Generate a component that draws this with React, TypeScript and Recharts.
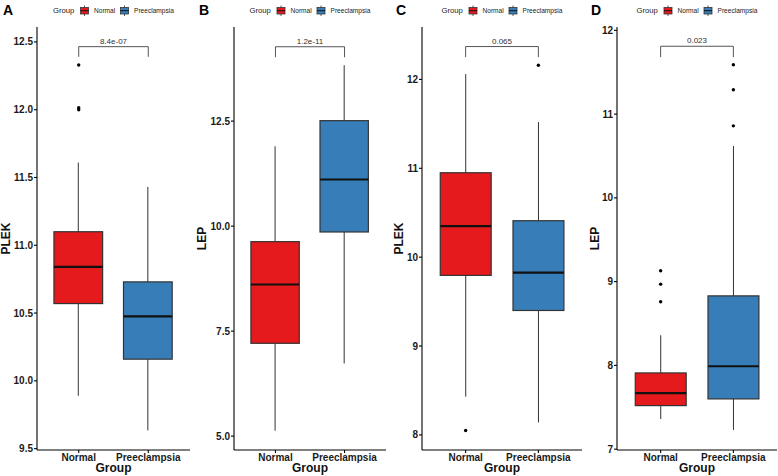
import React from 'react'
import { ComposedChart, Bar, Scatter, XAxis, YAxis, ReferenceLine } from 'recharts'

const FONT = '"Liberation Sans", Arial, Helvetica, sans-serif'

const GROUPS = ['Normal', 'Preeclampsia']
const COLORS: Record<string, string> = { Normal: '#E41A1C', Preeclampsia: '#377EB8' }

// [lower whisker, Q1, median, Q3, upper whisker], one row per group (GROUPS order)
const plekA = [[9.89, 10.57, 10.84, 11.10, 11.61], [9.635, 10.16, 10.475, 10.73, 11.43]]
const lepB = [[5.13, 7.21, 8.61, 9.63, 11.9], [6.73, 9.86, 11.11, 12.51, 13.83]]
const plekC = [[8.43, 9.795, 10.35, 10.95, 12.06], [8.14, 9.40, 9.825, 10.41, 11.52]]
const lepD = [[7.36, 7.52, 7.67, 7.91, 8.36], [7.23, 7.60, 7.99, 8.83, 10.62]]

const outA = [[12.33, 12.015, 12.0], []]
const outB = [[], []]
const outC = [[8.05], [12.16]]
const outD = [[9.13, 8.97, 8.76], [11.59, 11.29, 10.86]]

const ticksA = [9.5, 10, 10.5, 11, 11.5, 12, 12.5]
const ticksB = [5, 7.5, 10, 12.5]
const ticksC = [8, 9, 10, 11, 12]
const ticksD = [7, 8, 9, 10, 11, 12]

const pValues = ['8.4e-07', '1.2e-11', '0.065', '0.023']
// bracket top and lip end, in data units
const brackets = [[12.465, 12.39], [14.27, 14.02], [12.37, 12.25], [11.81, 11.68]]

const panels = [
  { letter: 'A', title: 'PLEK', stats: plekA, outliers: outA, ticks: ticksA, domain: [9.49, 12.61], digits: 1, left: 0, axisW: 37, plotW: 153, titleX: 6, letterX: 3 },
  { letter: 'B', title: 'LEP', stats: lepB, outliers: outB, ticks: ticksB, domain: [4.67, 14.74], digits: 1, left: 195, axisW: 39, plotW: 152, titleX: 7, letterX: 199 },
  { letter: 'C', title: 'PLEK', stats: plekC, outliers: outC, ticks: ticksC, domain: [7.83, 12.59], digits: 0, left: 390, axisW: 32, plotW: 160, titleX: 8.5, letterX: 396 },
  { letter: 'D', title: 'LEP', stats: lepD, outliers: outD, ticks: ticksD, domain: [6.99, 12.04], digits: 0, left: 585, axisW: 32, plotW: 160, titleX: 9.5, letterX: 591 },
]

function BoxShape(props: any) {
  const { x, y, width, height, payload } = props
  const [lo, q1, med, q3, hi] = payload.stats
  const top = Math.min(y, y + height)
  const bottom = Math.max(y, y + height)
  const k = (bottom - top) / (hi - lo)
  const py = (v: number) => top + (hi - v) * k
  const cx = x + width / 2
  return (
    <g>
      <line x1={cx} x2={cx} y1={top} y2={bottom} stroke="#333" strokeWidth={1} />
      <rect x={x} y={py(q3)} width={width} height={py(q1) - py(q3)} fill={COLORS[payload.group]} stroke="#333" strokeWidth={1.2} />
      <line x1={x} x2={x + width} y1={py(med)} y2={py(med)} stroke="#111" strokeWidth={2.2} />
    </g>
  )
}

const Dot = (sp: any) => <circle cx={sp.cx} cy={sp.cy} r={1.7} fill="#000" />

const tickStyle = { fontSize: 10, fontWeight: 700, fill: '#1a1a1a', fontFamily: FONT }

function Panel({ p, i }: { p: typeof panels[number]; i: number }) {
  const rows = GROUPS.map((g, j) => ({ group: g, stats: p.stats[j], whisker: [p.stats[j][0], p.stats[j][4]] }))
  const outliers = GROUPS.flatMap((g, j) => p.outliers[j].map(v => ({ group: g, value: v })))
  const pad = p.plotW * (1 - 1 / 1.1) / 2
  const [by, lip] = brackets[i]
  const width = p.axisW + p.plotW + 1
  return (
    <div style={{ position: 'absolute', left: p.left, top: 0 }}>
      <ComposedChart width={width} height={476} data={rows} margin={{ top: 27, right: 1, bottom: 0, left: 0 }}>
        <XAxis
          dataKey="group" type="category" allowDuplicatedCategory={false}
          padding={{ left: pad, right: pad }} height={26}
          stroke="#000" strokeWidth={1.1} tickSize={3} tickMargin={1} tick={tickStyle}
          label={(lp: any) => {
            const vb = lp.viewBox
            return <text x={vb.x + vb.width / 2} y={472} textAnchor="middle" fontSize={12} fontWeight={700} fill="#111" fontFamily={FONT}>Group</text>
          }}
        />
        <YAxis
          type="number" domain={p.domain} ticks={p.ticks} allowDataOverflow width={p.axisW}
          stroke="#000" strokeWidth={1.1} tickSize={3} tickMargin={1} tick={tickStyle}
          tickFormatter={(v: number) => v.toFixed(p.digits)}
          label={(lp: any) => {
            const vb = lp.viewBox
            const cx = vb.x + p.titleX
            const cy = vb.y + vb.height / 2
            return <text x={cx} y={cy} transform={`rotate(-90 ${cx} ${cy})`} textAnchor="middle" dominantBaseline="central" fontSize={12} fontWeight={700} fill="#111" fontFamily={FONT}>{p.title}</text>
          }}
        />
        <Bar dataKey="whisker" barSize={p.plotW * 0.7 / 2.2} shape={BoxShape} isAnimationActive={false} />
        <Scatter data={outliers} dataKey="value" shape={Dot} isAnimationActive={false} />
        <ReferenceLine
          segment={[{ x: 'Normal', y: by }, { x: 'Preeclampsia', y: by }]} stroke="#555" strokeWidth={1}
          label={{ value: pValues[i], position: 'top', offset: 3, fill: '#333', fontSize: 8, fontFamily: FONT }}
        />
        <ReferenceLine segment={[{ x: 'Normal', y: by }, { x: 'Normal', y: lip }]} stroke="#555" strokeWidth={1} />
        <ReferenceLine segment={[{ x: 'Preeclampsia', y: by }, { x: 'Preeclampsia', y: lip }]} stroke="#555" strokeWidth={1} />
      </ComposedChart>
    </div>
  )
}

function LegendKey({ x, color }: { x: number; color: string }) {
  return (
    <g>
      <line x1={x + 4.5} x2={x + 4.5} y1={5.5} y2={16} stroke="#333" strokeWidth={0.8} />
      <rect x={x + 0.5} y={7.5} width={8} height={6.5} fill={color} stroke="#333" strokeWidth={0.8} />
      <line x1={x + 0.5} x2={x + 8.5} y1={10.7} y2={10.7} stroke="#111" strokeWidth={1} />
    </g>
  )
}

export default function App() {
  return (
    <div style={{ position: 'absolute', left: 0, top: 0, width: 778, height: 476, background: '#fff', overflow: 'hidden', fontFamily: FONT }}>
      {panels.map((p, i) => <Panel key={p.letter} p={p} i={i} />)}
      <svg width={778} height={22} style={{ position: 'absolute', left: 0, top: 0 }}>
        {panels.map(p => {
          const lx = p.left + p.axisW + p.plotW / 2 - 60.5
          return (
            <g key={p.letter} fontFamily={FONT}>
              <text x={p.letterX} y={15} fontSize={14} fontWeight={700} fill="#000">{p.letter}</text>
              <text x={lx} y={13.1} fontSize={7.7} fill="#222">Group</text>
              <LegendKey x={lx + 27} color={COLORS.Normal} />
              <text x={lx + 41} y={12.8} fontSize={6.6} fill="#222">Normal</text>
              <LegendKey x={lx + 67} color={COLORS.Preeclampsia} />
              <text x={lx + 81} y={12.8} fontSize={6.6} fill="#222">Preeclampsia</text>
            </g>
          )
        })}
      </svg>
    </div>
  )
}
